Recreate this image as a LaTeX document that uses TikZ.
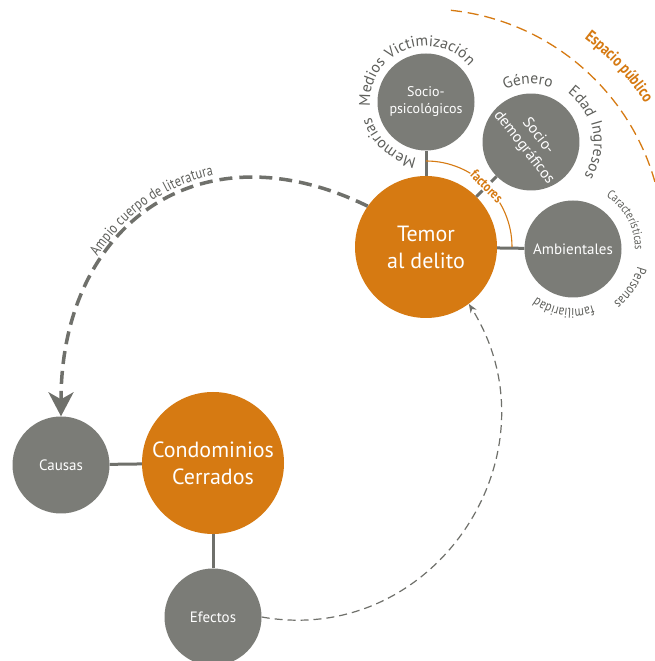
\documentclass[tikz,border=0pt]{standalone}
\usepackage{fontspec}
\setmainfont{PT Sans}
\newfontfamily\narrowfont[FakeStretch=0.82]{PT Sans}
\usetikzlibrary{arrows.meta,decorations.text}
\definecolor{orng}{HTML}{D67A12}
\definecolor{cgray}{HTML}{7B7C77}
\definecolor{lgray}{HTML}{6F706B}
\definecolor{tgray}{HTML}{5E5F5B}
\newcommand\ringsize{\fontsize{15.5}{15.5}\selectfont}
\newcommand\ambsize{\narrowfont\fontsize{14}{14}\selectfont}
\tikzset{
  hub/.style={circle, fill=orng, text=white, minimum size=142pt, inner sep=0pt, align=center, font=\fontsize{22}{27}\selectfont},
  factor/.style={circle, fill=cgray, text=white, minimum size=97pt, inner sep=0pt, align=center, font=\fontsize{14}{17}\selectfont},
  link/.style={draw=lgray, line width=3pt},
  ringtext/.style={decorate, decoration={text along path, text align=center, text color=tgray, text={#1}}},
  bigarrow/.style={draw=lgray, line width=3.5pt, dash pattern=on 13pt off 7pt, -{Stealth[length=24pt, width=25pt, inset=7pt]}},
  thinarrow/.style={draw=lgray, line width=1.2pt, dash pattern=on 8pt off 5pt, -{Stealth[length=9pt, width=7pt]}}
}

\begin{document}
\begin{tikzpicture}[x=1pt, y=1pt]
  \fill[white] (0,0) rectangle (655,661);
  \useasboundingbox (0,0) rectangle (655,661);

  \node[hub] (temor) at (426,414) {Temor\\al delito};
  \node[hub] (condo) at (213,198) {Condominios\\Cerrados};
  \node[factor] (socpsi) at (426,559) {Socio-\\psicológicos};
  \node[factor, rotate=-52, font=\fontsize{15.5}{18}\selectfont] (socdem) at (531,519) {Socio-\\demográficos};
  \node[factor, font=\fontsize{15}{17}\selectfont] (amb) at (573,412) {Ambientales};
  \node[factor, font=\fontsize{15}{17}\selectfont] (causas) at (61,196) {Causas};
  \node[factor, font=\fontsize{15}{17}\selectfont] (efectos) at (213,44) {Efectos};

  \draw[link] (temor) -- (socpsi);
  \draw[link] (temor) -- (socdem);
  \draw[link] (temor) -- (amb);
  \draw[link] (condo) -- (causas);
  \draw[link] (condo) -- (efectos);

  \draw[orng, line width=1.1pt] (temor.center) ++(90:86) arc[start angle=90, end angle=0, radius=86];
  \node[font=\narrowfont\bfseries\fontsize{14}{14}\selectfont, text=orng, fill=white, inner sep=1pt, rotate=-45] (factlbl) at ([shift={(45:86)}]temor.center) {factores};

  \draw[orng, line width=1.3pt, dash pattern=on 11pt off 6pt] (temor.center) ++(84:238) arc[start angle=84, end angle=8, radius=238];
  \path[decorate, decoration={text along path, text align=center, text color=orng, text={|\narrowfont\bfseries\fontsize{16.5}{16.5}\selectfont|Espacio público}}] (temor.center) ++(65:262) arc[start angle=65, end angle=21, radius=262];

  \path[ringtext={|\ringsize|Victimización}] (socpsi.center) ++(137:56) arc[start angle=137, end angle=33, radius=56];
  \path[ringtext={|\ringsize|Medios}] (socpsi.center) ++(190:56) arc[start angle=190, end angle=130, radius=56];
  \path[ringtext={|\ringsize|Memorias}] (socpsi.center) ++(266:57) arc[start angle=266, end angle=190, radius=57];
  \path[ringtext={|\ringsize|Género}] (socdem.center) ++(126:58) arc[start angle=126, end angle=60, radius=58];
  \path[ringtext={|\ringsize|Edad}] (socdem.center) ++(58:61) arc[start angle=58, end angle=18, radius=61];
  \path[ringtext={|\ringsize|Ingresos}] (socdem.center) ++(24:63) arc[start angle=24, end angle=-38, radius=63];
  \path[ringtext={|\narrowfont\fontsize{12.5}{12.5}\selectfont|Características}] (amb.center) ++(62:62) arc[start angle=62, end angle=-5, radius=62];
  \path[ringtext={|\ambsize|Personas}] (amb.center) ++(-6:67) arc[start angle=-6, end angle=-62, radius=67];
  \path[ringtext={|\ambsize|familiaridad}] (amb.center) ++(-64:60) arc[start angle=-64, end angle=-134, radius=60];

  \draw[bigarrow, postaction={decorate, decoration={text along path, reverse path, raise=6pt, text align={left indent=164pt}, text color=tgray, text={|\narrowfont\fontsize{15}{15}\selectfont|Ampio cuerpo de literatura}}}] (temor.145) to[out=154, in=90, looseness=1.3] (causas.north);
  \draw[thinarrow] (efectos.east) to[out=-10, in=-58, looseness=1.2] (temor.-53);
\end{tikzpicture}
\end{document}
